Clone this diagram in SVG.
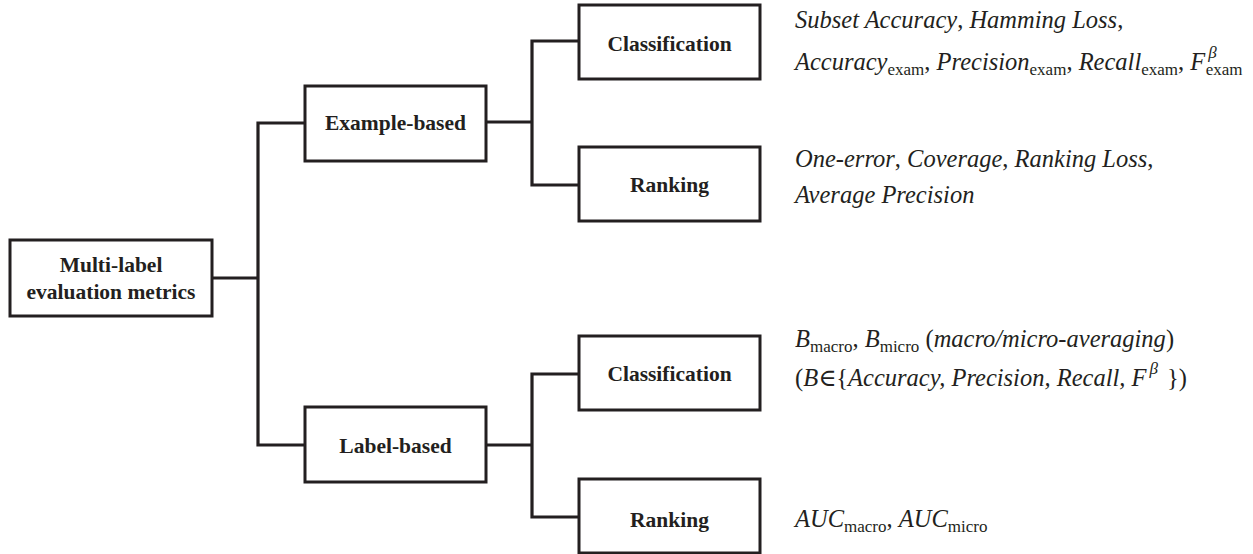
<svg xmlns="http://www.w3.org/2000/svg" width="1253" height="554" viewBox="0 0 1253 554">
<style>
.box{fill:#ffffff;stroke:#231f20;stroke-width:3}
.lbl{font-family:'Liberation Serif','DejaVu Serif',serif;font-weight:bold;font-size:21.5px;fill:#231f20;text-anchor:middle}
.conn{fill:none;stroke:#231f20;stroke-width:3.2;stroke-linejoin:miter;stroke-linecap:square}
.it{font-family:'Liberation Serif','DejaVu Serif',serif;font-style:italic;font-size:24.5px;fill:#231f20}
.rm{font-style:normal}
.sub{font-style:normal;font-size:17px}
.sup{font-style:italic;font-size:17px}
</style>
<rect width="1253" height="554" fill="#ffffff"/>
<g id="connectors">
<path class="conn" d="M212,278 H258 M258,123 V445 M258,123 H305 M258,445 H305"/>
<path class="conn" d="M486,122 H532 M532,41 V185 M532,41 H579 M532,185 H579"/>
<path class="conn" d="M486,445 H532 M532,374 V517 M532,374 H579 M532,517 H579"/>
</g>
<g id="root">
<rect class="box" x="10" y="240" width="202" height="76"/>
<text class="lbl" x="111" y="272">Multi-label</text>
<text class="lbl" x="111" y="299">evaluation metrics</text>
</g>
<g id="example-based">
<rect class="box" x="305" y="86" width="181" height="75"/>
<text class="lbl" x="395.5" y="130">Example-based</text>
</g>
<g id="label-based">
<rect class="box" x="305" y="407" width="181" height="75"/>
<text class="lbl" x="395.5" y="453">Label-based</text>
</g>
<g id="example-classification">
<rect class="box" x="579" y="5" width="181" height="74"/>
<text class="lbl" x="669.5" y="51">Classification</text>
<text class="it" x="795" y="28">Subset Accuracy<tspan class="rm">, </tspan>Hamming Loss<tspan class="rm">,</tspan></text>
<text class="it" x="795" y="70">Accuracy<tspan class="sub" dy="5">exam</tspan><tspan class="rm" dy="-5">, </tspan>Precision<tspan class="sub" dy="5">exam</tspan><tspan class="rm" dy="-5">, </tspan>Recall<tspan class="sub" dy="5">exam</tspan><tspan class="rm" dy="-5">, </tspan>F<tspan class="sup" dx="3" dy="-12">β</tspan><tspan class="sub" dx="-11" dy="17">exam</tspan></text>
</g>
<g id="example-ranking">
<rect class="box" x="579" y="147" width="181" height="74"/>
<text class="lbl" x="669.5" y="192">Ranking</text>
<text class="it" x="795" y="167">One-error<tspan class="rm">, </tspan>Coverage<tspan class="rm">, </tspan>Ranking Loss<tspan class="rm">,</tspan></text>
<text class="it" x="795" y="203">Average Precision</text>
</g>
<g id="label-classification">
<rect class="box" x="579" y="336" width="181" height="74"/>
<text class="lbl" x="669.5" y="381">Classification</text>
<text class="it" x="795" y="347">B<tspan class="sub" dy="5">macro</tspan><tspan class="rm" dy="-5">, </tspan>B<tspan class="sub" dy="5">micro</tspan><tspan class="rm" dy="-5"> (</tspan>macro/micro-averaging<tspan class="rm">)</tspan></text>
<text class="it" x="795" y="386"><tspan class="rm">(</tspan>B<tspan class="rm">∈{</tspan>Accuracy, Precision, Recall, F<tspan class="sup" dx="3" dy="-12">β</tspan><tspan class="rm" dx="3" dy="12"> })</tspan></text>
</g>
<g id="label-ranking">
<rect class="box" x="579" y="479" width="181" height="74"/>
<text class="lbl" x="669.5" y="527">Ranking</text>
<text class="it" x="795" y="527">AUC<tspan class="sub" dy="5">macro</tspan><tspan class="rm" dy="-5">, </tspan>AUC<tspan class="sub" dy="5">micro</tspan></text>
</g>
</svg>
